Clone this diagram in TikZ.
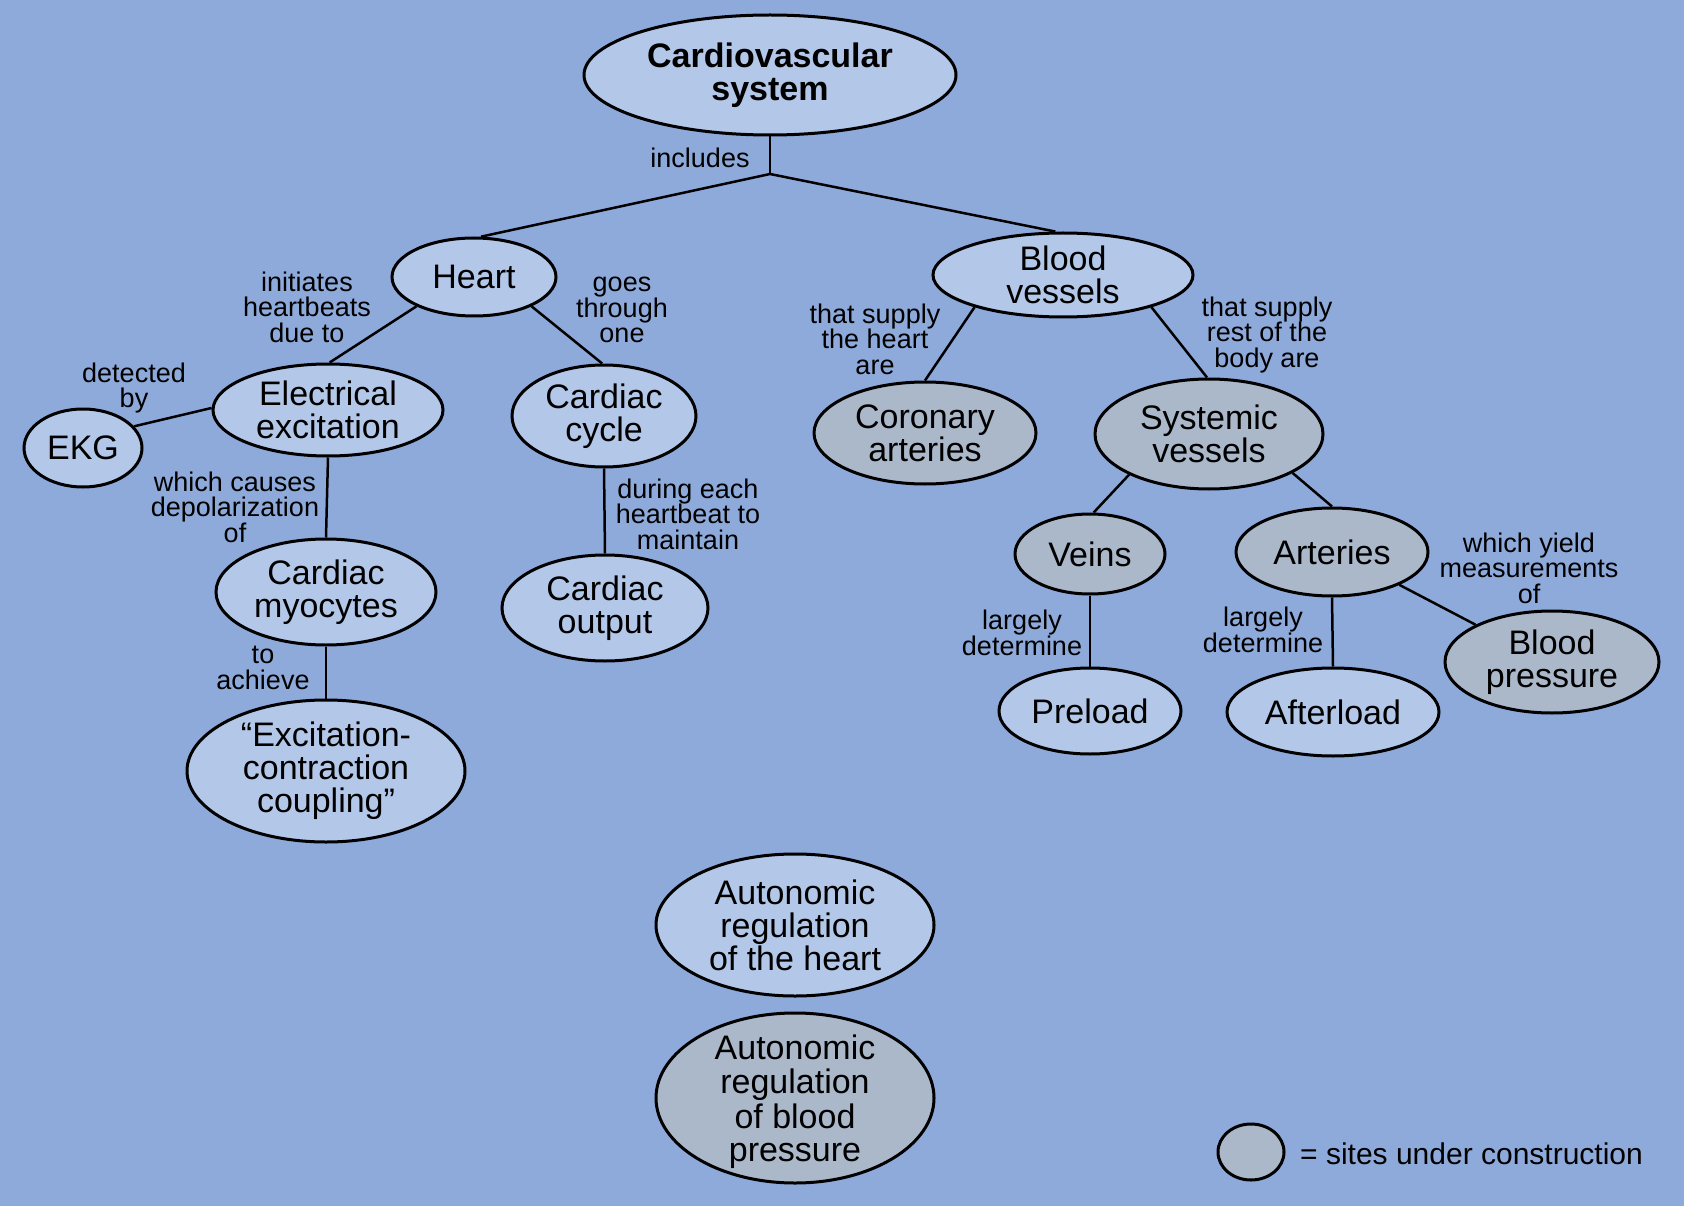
\documentclass[tikz,border=0pt]{standalone}
\usepackage{fontspec}
\setmainfont{Liberation Sans}
\usetikzlibrary{shapes.geometric}
\definecolor{bgc}{RGB}{142,170,219}
\definecolor{lightfill}{RGB}{179,199,232}
\definecolor{greyfill}{RGB}{171,184,201}
\tikzset{
  cnode/.style={ellipse, draw=black, line width=3pt, fill=lightfill, inner sep=0pt, align=center, font=\fontsize{34}{33}\selectfont},
  gnode/.style={cnode, fill=greyfill},
  lab/.style={inner sep=0pt, align=center, font=\fontsize{27}{25.5}\selectfont},
  conn/.style={draw=black, line width=2.5pt},
}
\begin{document}
\begin{tikzpicture}[x=1pt,y=-1pt]
\fill[bgc] (0,0) rectangle (1684,1206);
\useasboundingbox (0,0) rectangle (1684,1206);

% nodes
\node[cnode, minimum width=372pt, minimum height=120pt, font=\bfseries\fontsize{34}{33}\selectfont] (cvs) at (770,75) {Cardiovascular\\system};
\node[cnode, minimum width=164pt, minimum height=78pt] (heart) at (474,277) {Heart};
\node[cnode, minimum width=260pt, minimum height=84pt] (bv) at (1063,275) {Blood\\vessels};
\node[cnode, minimum width=230pt, minimum height=92pt] (elec) at (328,410) {Electrical\\excitation};
\node[cnode, minimum width=118pt, minimum height=78pt] (ekg) at (83,448) {EKG};
\node[cnode, minimum width=184pt, minimum height=102pt] (cycle) at (604,416) {Cardiac\\cycle};
\node[cnode, minimum width=220pt, minimum height=106pt] (myo) at (326,592) {Cardiac\\myocytes};
\node[cnode, minimum width=206pt, minimum height=106pt] (output) at (605,608) {Cardiac\\output};
\node[cnode, minimum width=278pt, minimum height=142pt] (ecc) at (326,771) {“Excitation-\\contraction\\coupling”};
\node[gnode, minimum width=222pt, minimum height=102pt] (coronary) at (925,433) {Coronary\\arteries};
\node[gnode, minimum width=228pt, minimum height=110pt] (systemic) at (1209,434) {Systemic\\vessels};
\node[gnode, minimum width=150pt, minimum height=80pt] (veins) at (1090,554) {Veins};
\node[gnode, minimum width=192pt, minimum height=88pt] (arteries) at (1332,552) {Arteries};
\node[cnode, minimum width=182pt, minimum height=86pt] (preload) at (1090,711) {Preload};
\node[cnode, minimum width=212pt, minimum height=88pt] (afterload) at (1333,712) {Afterload};
\node[gnode, minimum width=214pt, minimum height=102pt] (bp) at (1552,662) {Blood\\pressure};
\node[cnode, minimum width=278pt, minimum height=142pt] (autoh) at (795,925) {Autonomic\\regulation\\of the heart};
\node[gnode, minimum width=278pt, minimum height=170pt, text height=22pt, text depth=0pt] (autobp) at (795,1098) {\raisebox{0pt}[0pt][0pt]{\begin{tabular}{@{}c@{}}Autonomic\\regulation\\of blood\\pressure\end{tabular}}};
\node[gnode, minimum width=66pt, minimum height=56pt] (leg) at (1251,1152) {};
\node[lab, anchor=west, font=\fontsize{30}{30}\selectfont] (legtext) at (1300,1154) {= sites under construction};

% junction
\coordinate (J) at (770,174);

% connectors
\draw[conn] (cvs.south) -- (J);
\draw[conn] (J) -- (heart.80);
\draw[conn] (J) -- (bv.100);
\draw[conn] (heart.207) -- (elec.88);
\draw[conn] (heart.333) -- (cycle.92);
\draw[conn] (elec.179) -- (ekg.23);
\draw[conn] (elec.south) -- (myo.north);
\draw[conn] (myo.south) -- (ecc.north);
\draw[conn] (cycle.south) -- (output.north);
\draw[conn] (bv.200) -- (coronary.90);
\draw[conn] (bv.340) -- (systemic.92);
\draw[conn] (systemic.207) -- (veins.85);
\draw[conn] (systemic.335) -- (arteries.90);
\draw[conn] (veins.south) -- (preload.north);
\draw[conn] (arteries.south) -- (afterload.north);
\draw[conn] (arteries.334) -- (bp.154);

% labels
\node[lab] (l1) at (700,158) {includes};
\node[lab] (l2) at (307,307) {initiates\\heartbeats\\due to};
\node[lab] (l3) at (622,310) {goes\\through\\one};
\node[lab] (l4) at (134,388) {detected\\by};
\node[lab] (l5) at (235,507) {which causes\\depolarization\\of};
\node[lab] (l6) at (688,514) {during each\\heartbeat to\\maintain};
\node[lab] (l7) at (263,668) {to\\achieve};
\node[lab] (l8) at (875,339) {that supply\\the heart\\are};
\node[lab] (l9) at (1267,335) {that supply\\rest of the\\body are};
\node[lab] (l10) at (1022,633) {largely\\determine};
\node[lab] (l11) at (1263,630) {largely\\determine};
\node[lab] (l12) at (1529,568) {which yield\\measurements\\of};
\end{tikzpicture}
\end{document}
